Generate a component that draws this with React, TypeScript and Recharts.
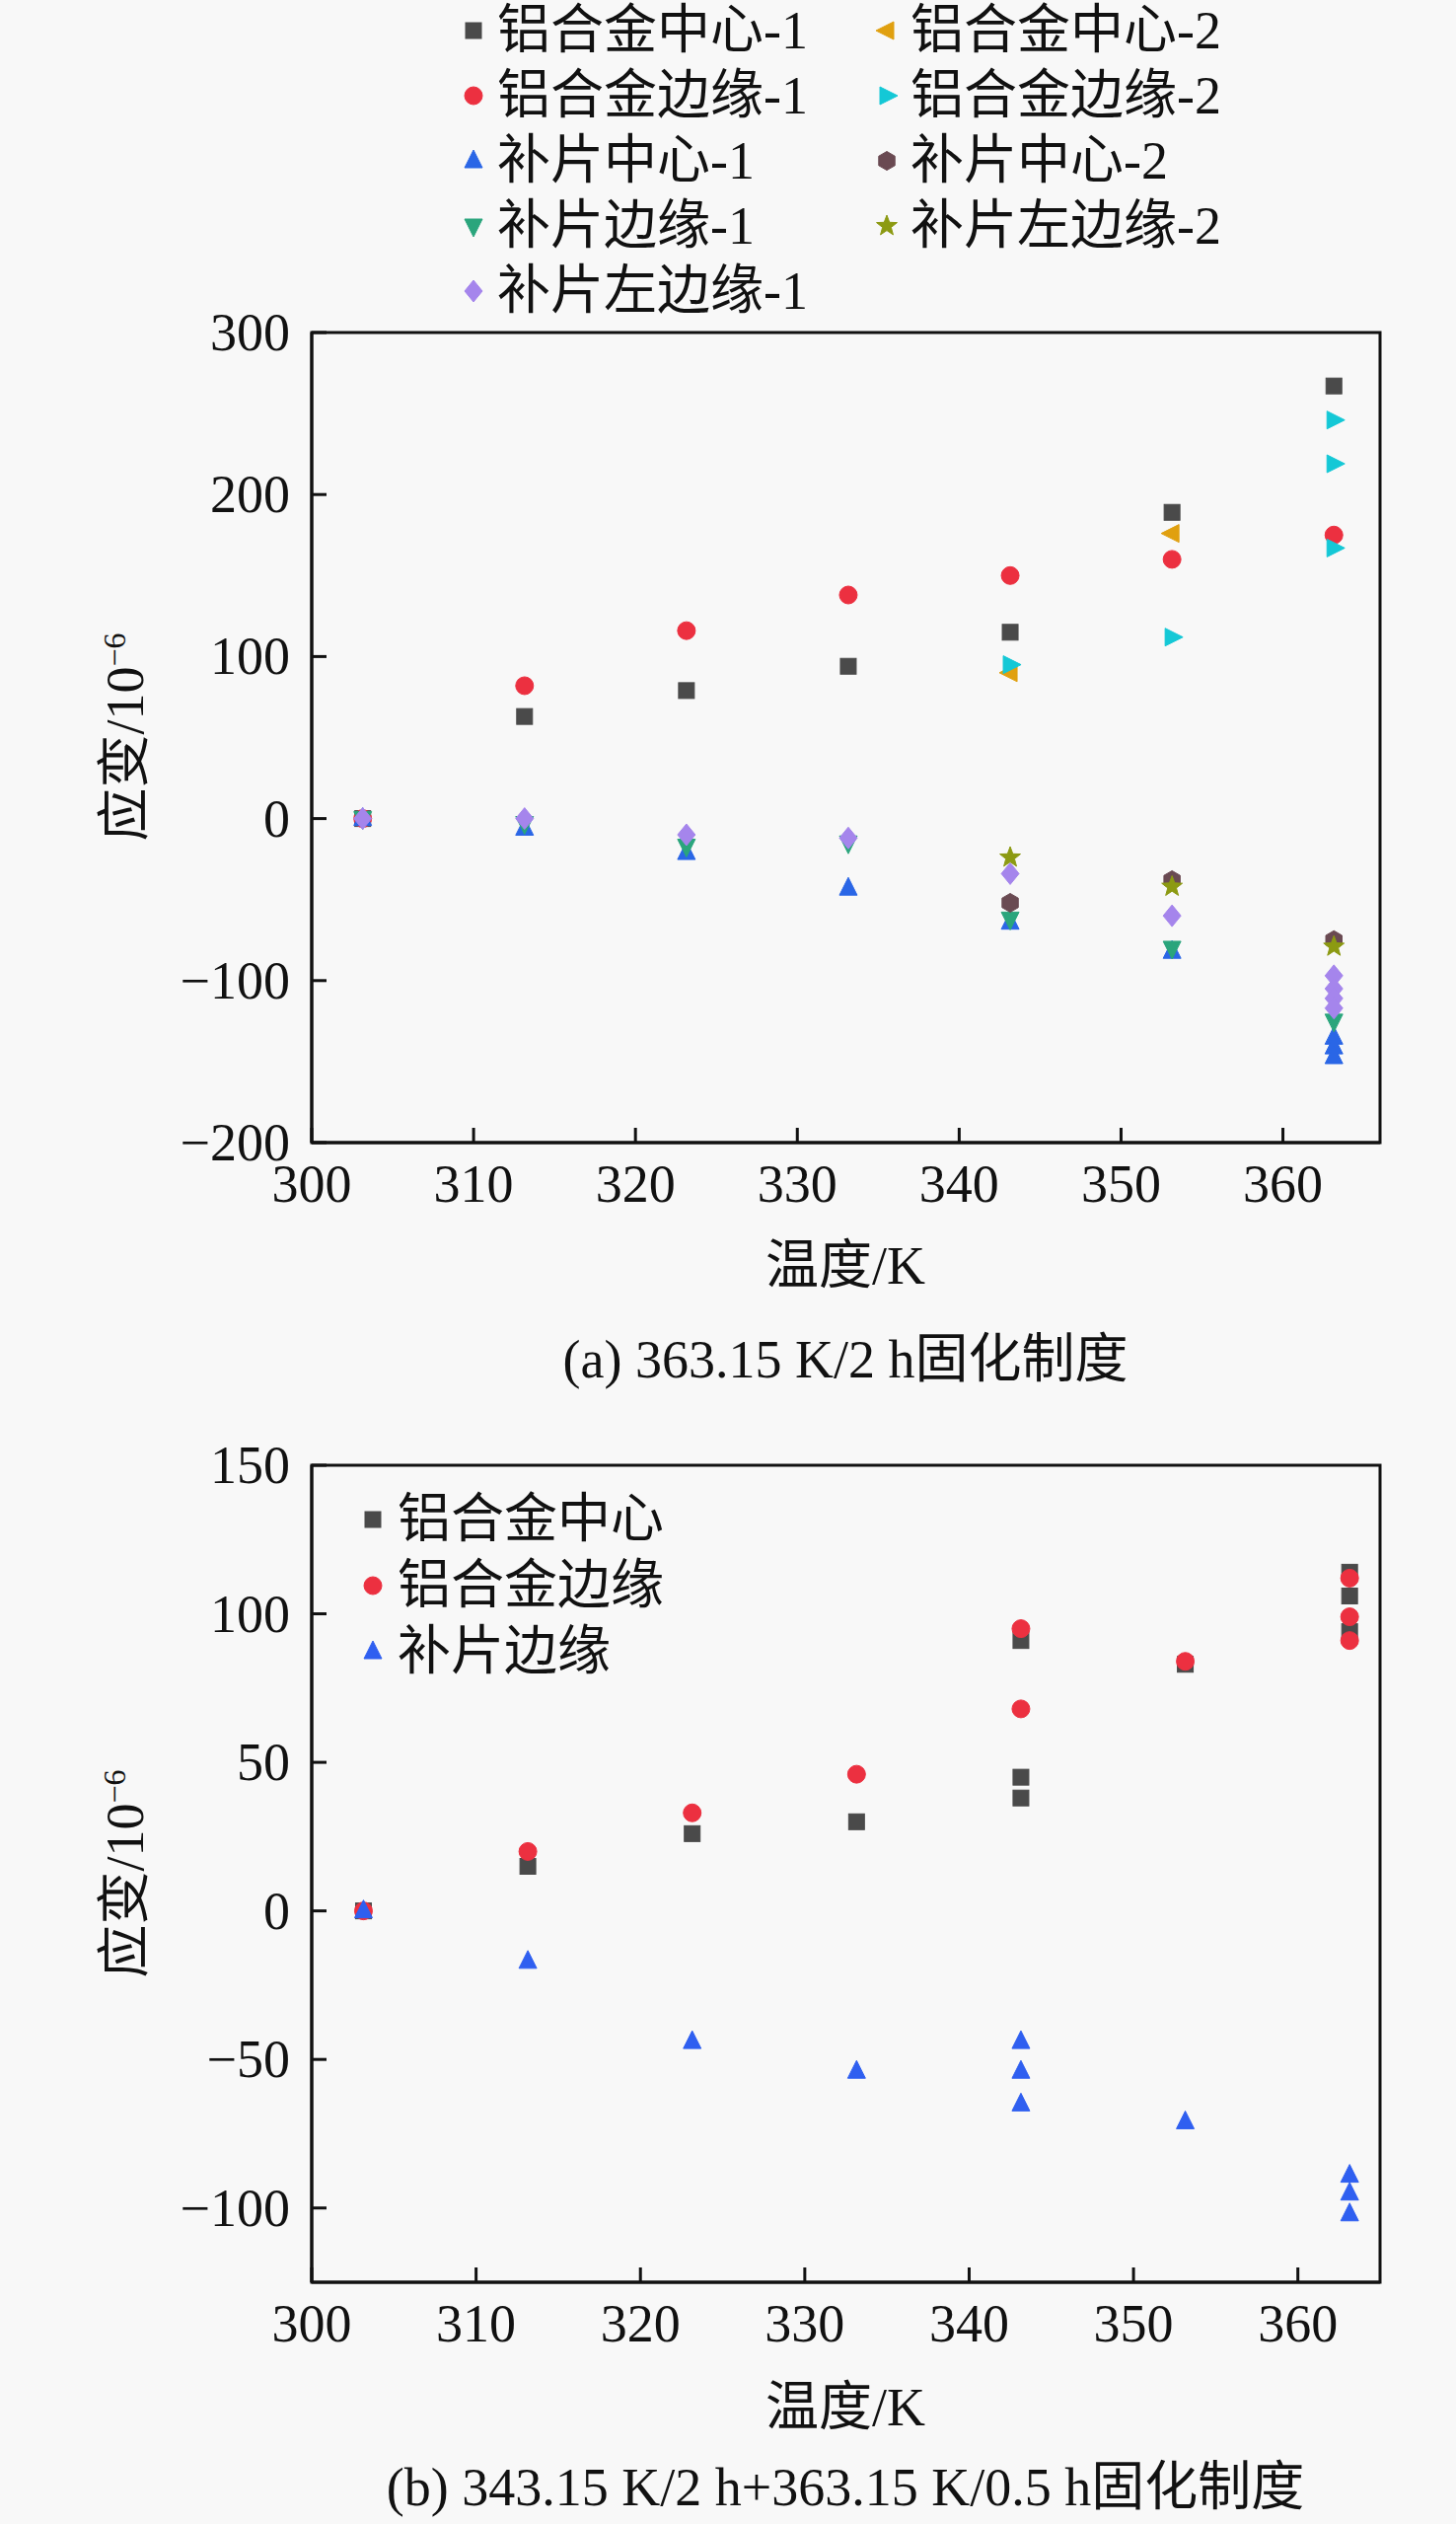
import React from 'react'
import { ScatterChart, Scatter, XAxis, YAxis, Legend, ReferenceArea } from 'recharts'

const FONT = "'Liberation Serif', 'Times New Roman', 'Noto Sans CJK SC', serif"
const BG = '#f8f8f8'
const INK = '#111'

// temperatures, K
const T7 = [303.15, 313.15, 323.15, 333.15, 343.15, 353.15, 363.15]
const T_LATE = [343.15, 353.15, 363.15]

// (a) 363.15 K/2 h
const A_X_TICKS = [300, 310, 320, 330, 340, 350, 360]
const A_Y_TICKS = [-200, -100, 0, 100, 200, 300]

const alCenter1 = [0, 63, 79, 94, 115, 189, 267]
const alEdge1 = [0, 82, 116, 138, 150, 160, 175]
const patchCenter1T = [...T7, 363.15, 363.15]
const patchCenter1 = [0, -6, -21, -43, -64, -82, -135, -141, -147]
const patchEdge1 = [0, -3, -17, -15, -62, -80, -125]
const patchLeft1T = [...T7, 363.15, 363.15, 363.15]
const patchLeft1 = [0, 0, -10, -12, -34, -60, -97, -105, -111, -117]
const alCenter2T = [343.15, 353.15]
const alCenter2 = [90, 176]
const alEdge2T = [343.15, 353.15, 363.15, 363.15, 363.15]
const alEdge2 = [95, 112, 246, 219, 167]
const patchCenter2 = [-52, -38, -75]
const patchLeft2 = [-24, -42, -79]

// (b) 343.15 K/2 h + 363.15 K/0.5 h
const B_X_TICKS = [300, 310, 320, 330, 340, 350, 360]
const B_Y_TICKS = [-100, -50, 0, 50, 100, 150]

const bAlCenterT = [303.15, 313.15, 323.15, 333.15, 343.15, 343.15, 343.15, 353.15, 363.15, 363.15, 363.15]
const bAlCenter = [0, 15, 26, 30, 91, 45, 38, 83, 114, 106, 94]
const bAlEdgeT = [303.15, 313.15, 323.15, 333.15, 343.15, 343.15, 353.15, 363.15, 363.15, 363.15]
const bAlEdge = [0, 20, 33, 46, 95, 68, 84, 112, 99, 91]
const bPatchEdgeT = [303.15, 313.15, 323.15, 333.15, 343.15, 343.15, 343.15, 353.15, 363.15, 363.15, 363.15]
const bPatchEdge = [0, -17, -44, -54, -44, -54, -65, -71, -89, -95, -102]

const zip = (xs: number[], ys: number[]) => ys.map((y, i) => ({ x: xs[i], y }))

type Kind = 'square' | 'circle' | 'up' | 'down' | 'left' | 'right' | 'hexagon' | 'star' | 'diamond'

type Series = { name: string; kind: Kind; color: string; data: { x: number; y: number }[] }

const SERIES_A: Series[] = [
  { name: '铝合金中心-1', kind: 'square', color: '#4a4a4a', data: zip(T7, alCenter1) },
  { name: '铝合金边缘-1', kind: 'circle', color: '#ec3040', data: zip(T7, alEdge1) },
  { name: '补片中心-1', kind: 'up', color: '#2a66e6', data: zip(patchCenter1T, patchCenter1) },
  { name: '补片边缘-1', kind: 'down', color: '#2aa57c', data: zip(T7, patchEdge1) },
  { name: '补片左边缘-1', kind: 'diamond', color: '#a585ec', data: zip(patchLeft1T, patchLeft1) },
  { name: '铝合金中心-2', kind: 'left', color: '#e0a010', data: zip(alCenter2T, alCenter2) },
  { name: '铝合金边缘-2', kind: 'right', color: '#14c8d6', data: zip(alEdge2T, alEdge2) },
  { name: '补片中心-2', kind: 'hexagon', color: '#6a4a52', data: zip(T_LATE, patchCenter2) },
  { name: '补片左边缘-2', kind: 'star', color: '#8c9a12', data: zip(T_LATE, patchLeft2) },
]

const SERIES_B: Series[] = [
  { name: '铝合金中心', kind: 'square', color: '#4a4a4a', data: zip(bAlCenterT, bAlCenter) },
  { name: '铝合金边缘', kind: 'circle', color: '#ec3040', data: zip(bAlEdgeT, bAlEdge) },
  { name: '补片边缘', kind: 'up', color: '#2f5ff0', data: zip(bPatchEdgeT, bPatchEdge) },
]

function poly(cx: number, cy: number, pts: number[][]) {
  return pts.map(([dx, dy]) => `${cx + dx},${cy + dy}`).join(' ')
}

function Marker({ kind, color, cx, cy }: { kind: Kind; color: string; cx: number; cy: number }) {
  const common = { fill: color, stroke: color, strokeWidth: 1 }
  switch (kind) {
    case 'square':
      return <rect x={cx - 8} y={cy - 8} width={16} height={16} {...common} />
    case 'circle':
      return <circle cx={cx} cy={cy} r={9} {...common} />
    case 'up':
      return <polygon points={poly(cx, cy, [[0, -11], [9, 7], [-9, 7]])} {...common} />
    case 'down':
      return <polygon points={poly(cx, cy, [[0, 11], [9, -7], [-9, -7]])} {...common} />
    case 'left':
      return <polygon points={poly(cx, cy, [[-11, 0], [7, -9], [7, 9]])} {...common} />
    case 'right':
      return <polygon points={poly(cx, cy, [[11, 0], [-7, -9], [-7, 9]])} {...common} />
    case 'diamond':
      return <polygon points={poly(cx, cy, [[0, -11], [9, 0], [0, 11], [-9, 0]])} {...common} />
    case 'hexagon': {
      const pts = [0, 1, 2, 3, 4, 5].map((k) => {
        const a = ((-90 + 60 * k) * Math.PI) / 180
        return [9.5 * Math.cos(a), 9.5 * Math.sin(a)]
      })
      return <polygon points={poly(cx, cy, pts)} {...common} />
    }
    case 'star': {
      const pts = Array.from({ length: 10 }, (_, k) => {
        const r = k % 2 === 0 ? 11 : 4.6
        const a = ((-90 + 36 * k) * Math.PI) / 180
        return [r * Math.cos(a), r * Math.sin(a)]
      })
      return <polygon points={poly(cx, cy, pts)} {...common} />
    }
  }
  return null
}

const fmt = (v: number) => (v < 0 ? `\u2212${Math.abs(v)}` : String(v))

function XTick(props: any) {
  const { x, y, payload } = props
  return (
    <g>
      <line x1={x} x2={x} y1={y} y2={y - 15} stroke={INK} strokeWidth={3} />
      <text x={x} y={y + 60} textAnchor="middle" fontSize={54} fontFamily={FONT} fill={INK}>
        {fmt(payload.value)}
      </text>
    </g>
  )
}

function YTick(props: any) {
  const { x, y, payload } = props
  return (
    <g>
      <line x1={x} x2={x + 15} y1={y} y2={y} stroke={INK} strokeWidth={3} />
      <text x={x - 22} y={y + 18} textAnchor="end" fontSize={54} fontFamily={FONT} fill={INK}>
        {fmt(payload.value)}
      </text>
    </g>
  )
}

type LegendSlot = { series: Series; mx: number; tx: number; y: number }

function LegendBox({ slots }: { slots: LegendSlot[] }) {
  return (
    <div style={{ position: 'relative', width: 1476, height: 1 }}>
      {slots.map((s) => (
        <React.Fragment key={s.series.name}>
          <svg
            width={30}
            height={30}
            style={{ position: 'absolute', left: s.mx - 15, top: s.y - 15, overflow: 'visible' }}
          >
            <Marker kind={s.series.kind} color={s.series.color} cx={15} cy={15} />
          </svg>
          <div
            style={{
              position: 'absolute',
              left: s.tx,
              top: s.y - 30,
              height: 60,
              lineHeight: '60px',
              fontSize: 54,
              fontFamily: FONT,
              color: INK,
              whiteSpace: 'nowrap',
            }}
          >
            {s.series.name}
          </div>
        </React.Fragment>
      ))}
    </div>
  )
}

const LEGEND_A_ORDER = [
  ['铝合金中心-1', 0, 0], ['铝合金中心-2', 1, 0],
  ['铝合金边缘-1', 0, 1], ['铝合金边缘-2', 1, 1],
  ['补片中心-1', 0, 2], ['补片中心-2', 1, 2],
  ['补片边缘-1', 0, 3], ['补片左边缘-2', 1, 3],
  ['补片左边缘-1', 0, 4],
] as const

const legendA: LegendSlot[] = LEGEND_A_ORDER.map(([name, col, row]) => ({
  series: SERIES_A.find((s) => s.name === name)!,
  mx: col === 0 ? 480 : 899,
  tx: col === 0 ? 504 : 923,
  y: 31 + row * 66,
}))

const legendB: LegendSlot[] = SERIES_B.map((s, i) => ({ series: s, mx: 378, tx: 403, y: 140 + i * 67 }))

function YLabel({ top }: { top: number }) {
  return (
    <div
      style={{
        position: 'absolute',
        left: 127,
        top,
        transform: 'translate(-50%, -50%) rotate(-90deg)',
        whiteSpace: 'nowrap',
        fontSize: 54,
        lineHeight: 1,
      }}
    >
      应变/10<sup style={{ fontSize: 32, verticalAlign: 'top', lineHeight: 1 }}>{'\u22126'}</sup>
    </div>
  )
}

function CenterText({ top, children }: { top: number; children: React.ReactNode }) {
  return (
    <div
      style={{
        position: 'absolute',
        left: 857,
        top,
        transform: 'translate(-50%, -50%)',
        whiteSpace: 'nowrap',
        fontSize: 54,
        lineHeight: 1,
      }}
    >
      {children}
    </div>
  )
}

function Panel({
  series,
  xTicks,
  yTicks,
  xDomain,
  yDomain,
  height,
  marginTop,
  marginBottom,
  legend,
}: {
  series: Series[]
  xTicks: number[]
  yTicks: number[]
  xDomain: [number, number]
  yDomain: [number, number]
  height: number
  marginTop: number
  marginBottom: number
  legend: LegendSlot[]
}) {
  return (
    <ScatterChart
      width={1476}
      height={height}
      margin={{ top: marginTop, right: 77, bottom: marginBottom, left: 116 }}
      style={{ fontFamily: FONT }}
    >
      <XAxis
        type="number"
        dataKey="x"
        domain={xDomain}
        ticks={xTicks}
        interval={0}
        allowDataOverflow
        height={100}
        tickSize={0}
        tickMargin={0}
        tickLine={false}
        axisLine={{ stroke: INK, strokeWidth: 3 }}
        tick={<XTick />}
      />
      <YAxis
        type="number"
        dataKey="y"
        domain={yDomain}
        ticks={yTicks}
        interval={0}
        allowDataOverflow
        width={200}
        tickSize={0}
        tickMargin={0}
        tickLine={false}
        axisLine={{ stroke: INK, strokeWidth: 3 }}
        tick={<YTick />}
      />
      <ReferenceArea
        x1={xDomain[0]}
        x2={xDomain[1]}
        y1={yDomain[0]}
        y2={yDomain[1]}
        fill="none"
        fillOpacity={0}
        stroke={INK}
        strokeWidth={3}
        strokeOpacity={1}
      />
      <Legend
        layout="vertical"
        align="center"
        verticalAlign="middle"
        wrapperStyle={{ position: 'absolute', left: 0, top: 0, width: 1476, height: 1 }}
        content={() => <LegendBox slots={legend} />}
      />
      {series.map((s) => (
        <Scatter
          key={s.name}
          name={s.name}
          data={s.data}
          fill={s.color}
          isAnimationActive={false}
          shape={(p: any) => <Marker kind={s.kind} color={s.color} cx={p.cx} cy={p.cy} />}
        />
      ))}
    </ScatterChart>
  )
}

export default function App() {
  return (
    <div
      style={{
        position: 'absolute',
        left: 0,
        top: 0,
        width: 1476,
        height: 2558,
        background: BG,
        fontFamily: FONT,
        color: INK,
        overflow: 'hidden',
      }}
    >
      <div style={{ position: 'absolute', left: 0, top: 0 }}>
        <Panel
          series={SERIES_A}
          xTicks={A_X_TICKS}
          yTicks={A_Y_TICKS}
          xDomain={[300, 366]}
          yDomain={[-200, 300]}
          height={1260}
          marginTop={337}
          marginBottom={2}
          legend={legendA}
        />
      </div>
      <YLabel top={747} />
      <CenterText top={1283}>温度/K</CenterText>
      <CenterText top={1378}>(a) 363.15 K/2 h固化制度</CenterText>

      <div style={{ position: 'absolute', left: 0, top: 1400 }}>
        <Panel
          series={SERIES_B}
          xTicks={B_X_TICKS}
          yTicks={B_Y_TICKS}
          xDomain={[300, 365]}
          yDomain={[-125, 150]}
          height={1020}
          marginTop={85}
          marginBottom={7}
          legend={legendB}
        />
      </div>
      <YLabel top={1899} />
      <CenterText top={2440}>温度/K</CenterText>
      <CenterText top={2521}>(b) 343.15 K/2 h+363.15 K/0.5 h固化制度</CenterText>
    </div>
  )
}
